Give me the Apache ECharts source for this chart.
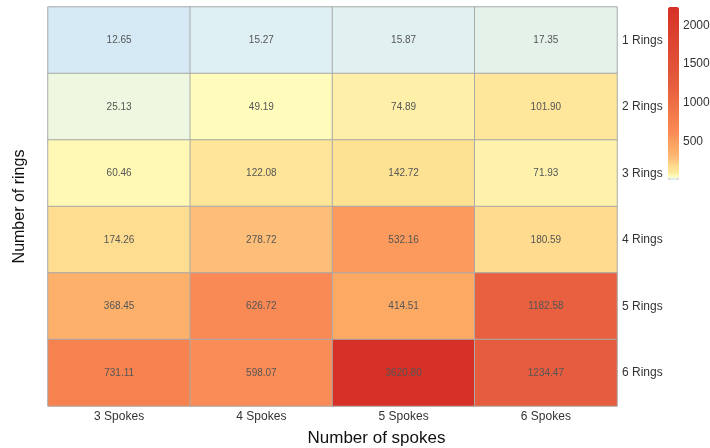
<!DOCTYPE html>
<html>
<head>
<meta charset="utf-8">
<script src="https://cdn.jsdelivr.net/npm/echarts@6/dist/echarts.min.js"></script>
<style>
  html, body { margin: 0; padding: 0; background: #fff; }
  #chart { width: 710px; height: 448px; }
</style>
</head>
<body>
<div id="chart"></div>
<script>
// Categories
const spokes = ['3 Spokes', '4 Spokes', '5 Spokes', '6 Spokes'];
const rings = ['1 Rings', '2 Rings', '3 Rings', '4 Rings', '5 Rings', '6 Rings'];

// Values per ring row (3, 4, 5, 6 spokes)
const rings1 = [12.65, 15.27, 15.87, 17.35];
const rings2 = [25.13, 49.19, 74.89, 101.90];
const rings3 = [60.46, 122.08, 142.72, 71.93];
const rings4 = [174.26, 278.72, 532.16, 180.59];
const rings5 = [368.45, 626.72, 414.51, 1182.58];
const rings6 = [731.11, 598.07, 3620.80, 1234.47];

// Colour scale range and legend tick labels
const scaleMin = 0;
const scaleMax = 2240;
const legendTicks = [500, 1000, 1500, 2000];

// Colour stops of the scale: [value, colour]
const colorStops = [
  [0, '#d2e9f4'], [12.65, '#d4eaf4'], [15.3, '#e0f1f5'], [15.9, '#e2f2f2'],
  [17.35, '#e5f2ea'], [25.13, '#eef7df'], [49.19, '#fffcbb'], [60.5, '#fff9b5'],
  [72, '#fff2ad'], [75, '#fef0a8'], [102, '#fee79a'], [122, '#fee597'],
  [143, '#fee294'], [178, '#fedc8f'], [279, '#fdbe79'], [368, '#fdb06a'],
  [415, '#fca964'], [532, '#fb9a5c'], [598, '#fa8c57'], [627, '#fa8a55'],
  [731, '#f6834f'], [1182, '#e8603f'], [1234, '#e55d3e'], [2240, '#d73027']
];

function hexToRgb(h) {
  return [parseInt(h.slice(1, 3), 16), parseInt(h.slice(3, 5), 16), parseInt(h.slice(5, 7), 16)];
}
function colorAt(v) {
  for (let i = 1; i < colorStops.length; i++) {
    const [v1, c1] = colorStops[i];
    if (v <= v1) {
      const [v0, c0] = colorStops[i - 1];
      const t = (v - v0) / (v1 - v0);
      const a = hexToRgb(c0), b = hexToRgb(c1);
      const rgb = a.map((x, k) => Math.round(x + (b[k] - x) * t));
      return 'rgb(' + rgb.join(',') + ')';
    }
  }
  return colorStops[colorStops.length - 1][1];
}
// Evenly spaced palette for the continuous visual map
const palette = [];
const steps = 900;
for (let i = 0; i <= steps; i++) {
  palette.push(colorAt(scaleMin + (scaleMax - scaleMin) * i / steps));
}

const rows = [rings1, rings2, rings3, rings4, rings5, rings6];
const cells = [];
rows.forEach((row, r) => row.forEach((v, c) => cells.push([c, r, v])));

const chart = echarts.init(document.getElementById('chart'), null, { renderer: 'canvas' });
chart.setOption({
  backgroundColor: '#fff',
  animation: false,
  textStyle: { fontFamily: 'Liberation Sans, Arial, sans-serif' },
  grid: [
    { left: 48, right: 93, top: 7, bottom: 42, outerBoundsMode: 'none' },
    { left: 668, top: 7, width: 11, height: 173, outerBoundsMode: 'none' }
  ],
  xAxis: [
    {
      type: 'category', gridIndex: 0, data: spokes,
      axisLine: { show: false }, axisTick: { show: false }, splitLine: { show: false },
      axisLabel: { color: '#333', fontSize: 12, margin: 5 },
      name: 'Number of spokes', nameLocation: 'middle', nameGap: 24,
      nameTextStyle: { color: '#111', fontSize: 17, padding: [0, 0, 0, 88] }
    },
    { type: 'value', gridIndex: 1, show: false }
  ],
  yAxis: [
    {
      type: 'category', gridIndex: 0, data: rings, inverse: true, position: 'right',
      axisLine: { show: false }, axisTick: { show: false }, splitLine: { show: false },
      axisLabel: { color: '#333', fontSize: 12, margin: 5 }
    },
    {
      type: 'category', gridIndex: 0, data: rings, inverse: true, position: 'left',
      axisLine: { show: false }, axisTick: { show: false }, axisLabel: { show: false },
      name: 'Number of rings', nameLocation: 'middle', nameGap: 20,
      nameTextStyle: { color: '#111', fontSize: 16 }
    },
    {
      type: 'value', gridIndex: 1, min: scaleMin, max: scaleMax, interval: 500, position: 'right',
      axisLine: { show: false }, axisTick: { show: false }, splitLine: { show: false },
      axisLabel: {
        color: '#333', fontSize: 12, margin: 4,
        formatter: v => legendTicks.includes(v) ? String(v) : ''
      }
    }
  ],
  visualMap: {
    type: 'continuous', min: scaleMin, max: scaleMax, dimension: 2, seriesIndex: 0,
    calculable: false, orient: 'vertical', left: 668, top: 7, padding: 0,
    itemWidth: 11, itemHeight: 173, text: null, showLabel: false,
    inRange: { color: palette },
    outOfRange: { color: '#d73027' }
  },
  series: [{
    type: 'heatmap', xAxisIndex: 0, yAxisIndex: 0, data: cells,
    itemStyle: { borderColor: '#a9a9a9', borderWidth: 1 },
    label: {
      show: true, color: '#555', fontSize: 10,
      formatter: p => p.value[2].toFixed(2)
    },
    emphasis: { disabled: true }
  }]
});
</script>
</body>
</html>
